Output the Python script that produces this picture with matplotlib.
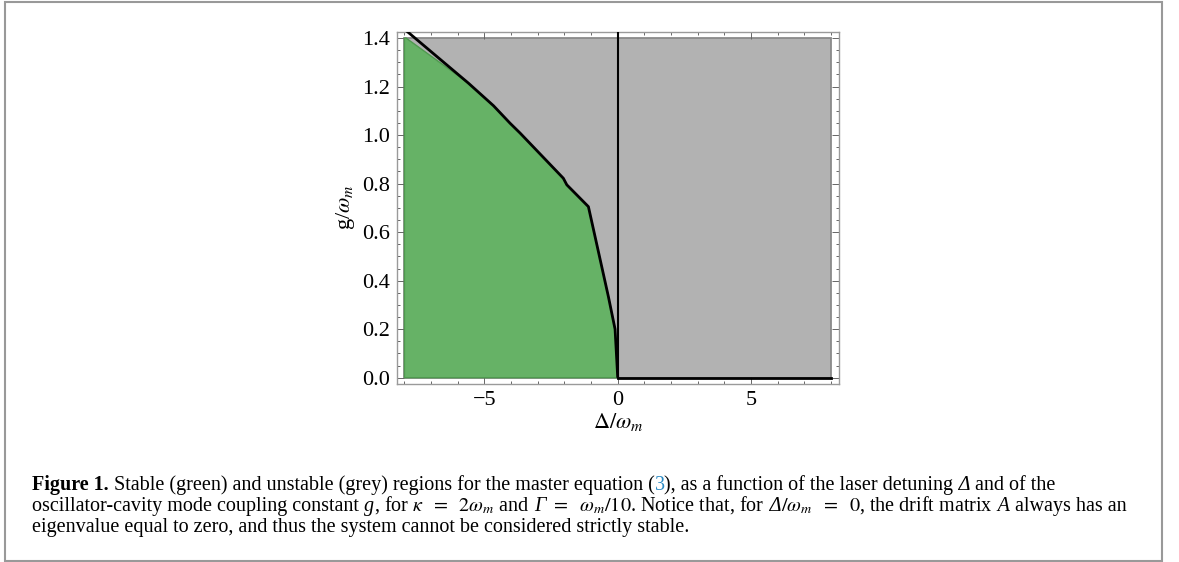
import matplotlib
matplotlib.use("Agg")
import matplotlib.pyplot as plt
from matplotlib.patches import Rectangle, Polygon
from matplotlib.ticker import MultipleLocator, FixedLocator

# ---- Данные: граница области устойчивости (Delta/omega_m, g/omega_m) ----
delta_b = [-8.0, -7.94, -5.60, -4.66, -4.04, -3.66, -2.04, -1.91, -1.10, -0.35, -0.10, -0.04, 0.0]
g_b = [1.437, 1.431, 1.214, 1.121, 1.049, 1.008, 0.822, 0.795, 0.705, 0.334, 0.20, 0.08, 0.0]
delta_range = [-8.0, 8.0]
g_range = [0.0, 1.4]
x_ticks = [-5, 0, 5]
y_ticks = [0.0, 0.2, 0.4, 0.6, 0.8, 1.0, 1.2, 1.4]

plt.rcParams['font.family'] = ['Liberation Serif', 'DejaVu Serif']
plt.rcParams['mathtext.fontset'] = 'stix'

W, H = 1179, 562
fig = plt.figure(figsize=(W / 100, H / 100), dpi=100)
ax = fig.add_axes([397 / W, 1 - 384 / H, (839 - 397) / W, (384 - 31.5) / H])

GREEN = '#66b266'
GREY = '#b2b2b2'

# серая (неустойчивая) область
ax.add_patch(Rectangle((delta_range[0], g_range[0]), delta_range[1] - delta_range[0],
                       g_range[1] - g_range[0], facecolor=GREY, edgecolor='#8a8a8a',
                       lw=1.3, zorder=1))

# зелёная (устойчивая) область: обрезаем границу сверху на 1.4
top = [min(g, g_range[1]) for g in g_b]
poly = [(delta_range[0], g_range[0])] + list(zip(delta_b, top)) + [(0.0, g_range[0])]
ax.add_patch(Polygon(poly, closed=True, facecolor=GREEN, edgecolor='#4f9a4f',
                     lw=1.0, zorder=2))

# чёрные линии границы
ax.plot(delta_b, g_b, color='black', lw=2.0, zorder=3, solid_capstyle='butt')
ax.plot([0, delta_range[1]], [0, 0], color='black', lw=2.0, zorder=3)
ax.plot([0, 0], [0, 2], color='black', lw=1.5, zorder=3)

ax.set_xlim(-8.28, 8.30)
ax.set_ylim(-0.026, 1.427)

ax.xaxis.set_major_locator(FixedLocator(x_ticks))
ax.xaxis.set_minor_locator(MultipleLocator(1))
ax.yaxis.set_major_locator(FixedLocator(y_ticks))
ax.yaxis.set_minor_locator(MultipleLocator(0.05))
ax.set_xticklabels(['\u22125', '0', '5'])
ax.set_yticklabels([f'{v:.1f}' for v in y_ticks])
ax.tick_params(which='both', direction='in', top=True, right=True, color='#666666',
               width=0.7, labelsize=16)
ax.tick_params(which='major', length=5, pad=5)
ax.tick_params(which='minor', length=2.5)
for s in ax.spines.values():
    s.set_color('#9a9a9a')
    s.set_linewidth(1.0)

ax.set_xlabel(r'$\Delta/\omega_m$', fontsize=16, labelpad=1)
ax.set_ylabel(r'g/$\omega_m$', fontsize=16, labelpad=4)

# рамка вокруг всей картинки
fig.patches.append(Rectangle((5 / W, 1 / H), (1162 - 5) / W, (561 - 2) / H,
                             transform=fig.transFigure, fill=False,
                             edgecolor='#999999', lw=1.5))

# ---- Подпись к рисунку ----
CAP = 14.5
def put_line(parts, x0, y0):
    fig.canvas.draw()
    r = fig.canvas.get_renderer()
    x = x0
    for s, kw in parts:
        t = fig.text(x / W, 1 - y0 / H, s, fontsize=CAP, va='baseline', ha='left', **kw)
        bb = t.get_window_extent(renderer=r)
        x = bb.x1

blue = dict(color='#2a8ac4')
bold = dict(fontweight='bold')
ital = dict(style='italic')
put_line([('Figure 1.', bold),
          (' Stable (green) and unstable (grey) regions for the master equation (', {}),
          ('3', blue),
          ('), as a function of the laser detuning', {}), (' Δ', ital),
          (' and of the', {})],
         32, 490)
put_line([('oscillator-cavity mode coupling constant', {}), (' g', ital),
          (r', for $\kappa\;\ =\;\ 2\omega_m$ and', {}), (' Γ', ital),
          (r' $=\;\ \omega_m/10$. Notice that, for', {}), (' Δ', ital),
          (r'$/\omega_m\;\ =\;\ 0$, the drift matrix', {}), (' A', ital),
          (' always has an', {})], 32, 511)
put_line([('eigenvalue equal to zero, and thus the system cannot be considered strictly stable.', {})],
         32, 532)

fig.savefig('out.png', dpi=100)
